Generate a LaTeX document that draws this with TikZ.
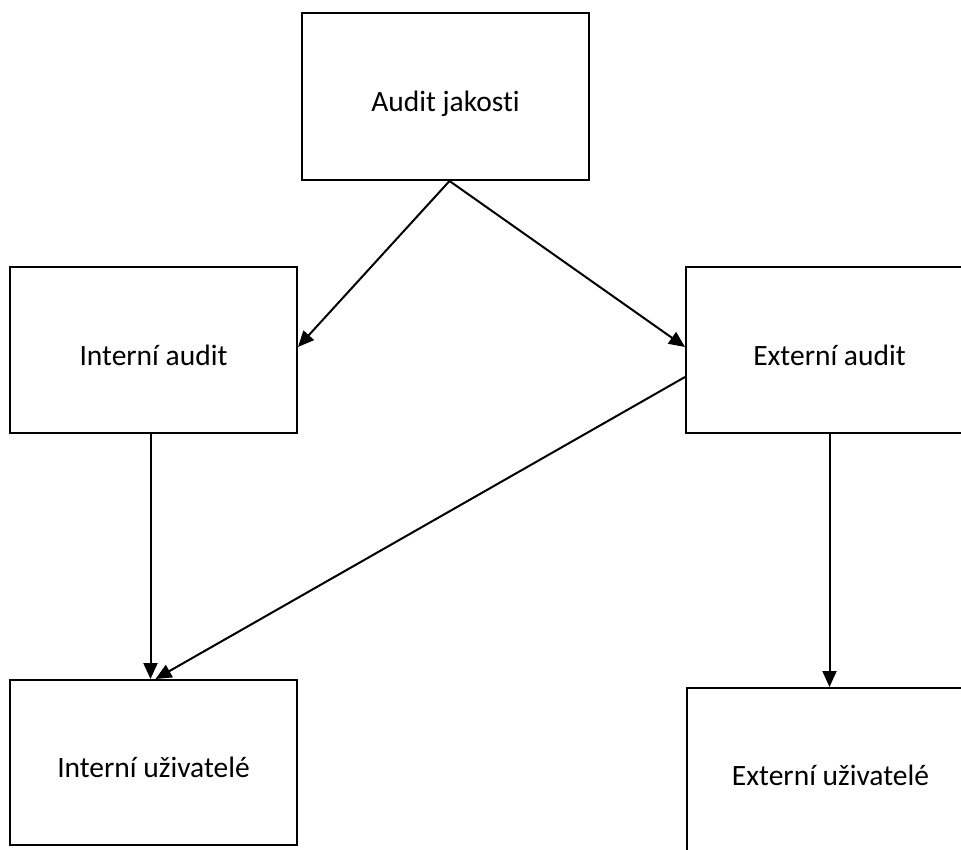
\documentclass[tikz,border=0pt]{standalone}
\usepackage{fontspec}
\setmainfont{Carlito}[Ligatures=NoCommon]
\usetikzlibrary{arrows.meta,calc}
\begin{document}
\begin{tikzpicture}[x=1pt,y=-1pt,
  box/.style={draw,line width=2pt,minimum width=287pt,inner sep=0pt,
    text height=30pt,text depth=0pt,font=\fontsize{29.5}{35}\selectfont},
  link/.style={line width=2pt,-{Triangle[length=16pt,width=14pt]}}]
\useasboundingbox (0,0) rectangle (961,849);
\clip (0,0) rectangle (961,849);
% boxes
\node[box,minimum height=167pt] (aj) at (445.5,96.5) {Audit jakosti};
\node[box,minimum height=166pt] (ia) at (153.5,350) {Interní audit};
\node[box,minimum height=166pt] (ea) at (829.5,350) {Externí audit};
\node[box,minimum height=165pt] (iu) at (153.5,762.5) {Interní uživatelé};
\node[box,minimum height=165pt] (eu) at (830.5,770.5) {Externí uživatelé};
% connectors
\coordinate (apex) at ($(aj.south)+(4,0)$);
\draw[link] (apex) -- ($(ia.east)+(0,-3)$);
\draw[link] (apex) -- ($(ea.west)+(0,-3)$);
\draw[link] ($(ea.west)+(0,27)$) -- ($(iu.north)+(2,0)$);
\draw[link] ($(ia.south)+(-3,0)$) -- ($(iu.north)+(-3,0)$);
\draw[link] (ea.south) -- (ea.south |- eu.north);
\end{tikzpicture}
\end{document}
